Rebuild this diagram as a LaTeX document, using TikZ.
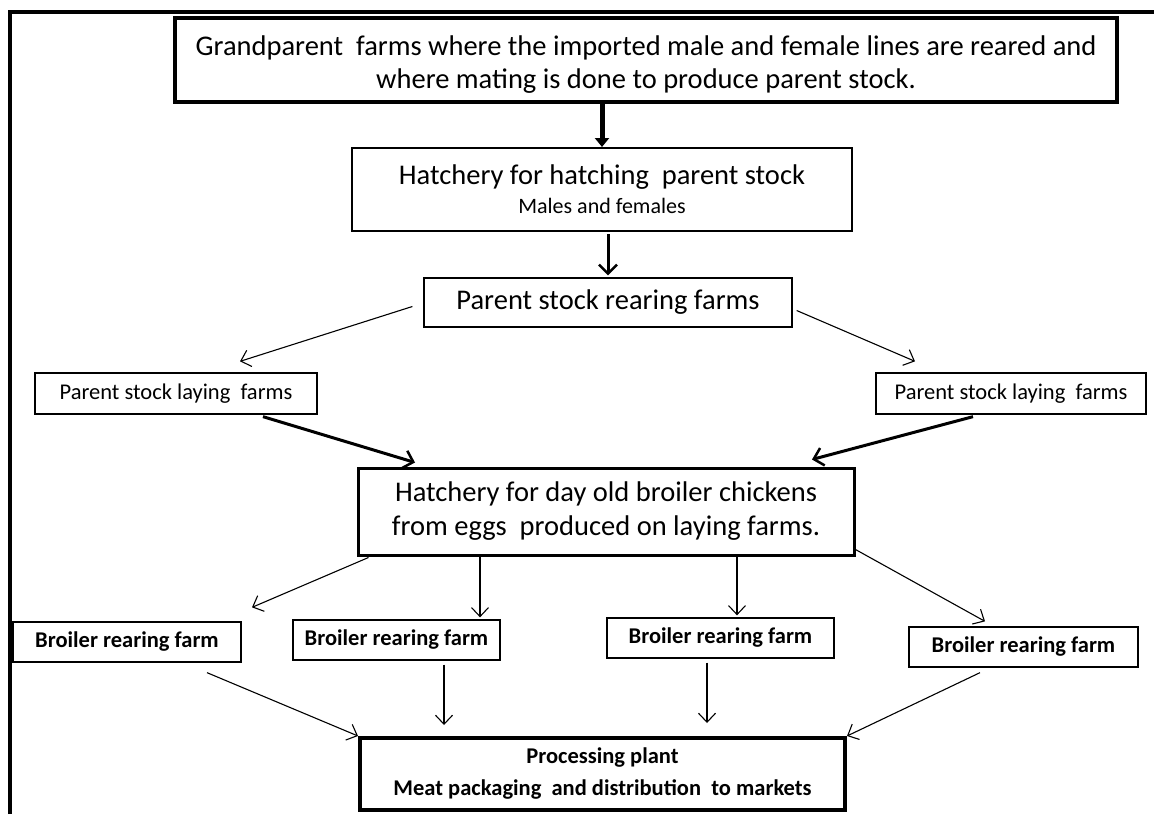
\documentclass[tikz,border=0pt]{standalone}
\usepackage{fontspec}
\setmainfont{Carlito}
\usetikzlibrary{arrows.meta,calc}
\begin{document}
\begin{tikzpicture}[x=1pt,y=1pt,
  box/.style={draw=black,rectangle,inner sep=0pt,align=center,fill=white},
  big/.style={font=\fontsize{28.5}{33}\selectfont},
  small/.style={font=\fontsize{22.5}{26}\selectfont},
  bsmall/.style={font=\fontsize{22.5}{26}\selectfont\bfseries},
  thinarr/.style={draw=black,line width=1.1pt,-{Straight Barb[length=9pt,width=17pt,line width=1.1pt]}},
  medarr/.style={draw=black,line width=3pt,-{Straight Barb[length=9pt,width=18pt,line width=2.5pt]}},
  thickarr/.style={draw=black,line width=5pt,-{Triangle[length=9pt,width=14pt]}}
]
\useasboundingbox (0,0) rectangle (1154,-814);
% frame
\draw[line width=4pt] (10,-814) -- (10,-12) -- (1154,-12);

\node[box,big,line width=4pt,minimum width=942pt,minimum height=84pt] (gp) at (646,-60)
  {\raisebox{-5pt}[\height][\depth]{\begin{tabular}{@{}c@{}}Grandparent\ \ farms where the imported male and female lines are reared and\\ where mating is done to produce parent stock.\end{tabular}}};
\node[box,line width=2pt,minimum width=500pt,minimum height=83pt] (h1) at (602,-189.5)
  {{\fontsize{28.5}{33}\selectfont Hatchery for hatching\ \ parent stock}\\[8pt] {\fontsize{22}{26}\selectfont Males and females}};
\node[box,big,line width=1.3pt,minimum width=368pt,minimum height=49pt] (r) at (608,-302.5)
  {Parent stock rearing farms};
\node[box,small,line width=1.3pt,minimum width=282pt,minimum height=41pt] (ll) at (176,-393.5)
  {Parent stock laying\ \ farms};
\node[box,small,line width=1.3pt,minimum width=270pt,minimum height=41pt] (lr) at (1011,-393.5)
  {Parent stock laying\ \ farms};
\node[box,font=\fontsize{28.5}{34}\selectfont,line width=3pt,minimum width=496pt,minimum height=87pt] (h2) at (606,-511.5)
  {Hatchery for day old broiler chickens\\ from eggs\ \ produced on laying farms.};
\node[box,bsmall,line width=1.3pt,minimum width=228pt,minimum height=40pt] (b1) at (127,-642) {Broiler rearing farm};
\node[box,bsmall,line width=1.3pt,minimum width=207pt,minimum height=40pt] (b2) at (396.5,-640) {Broiler rearing farm};
\node[box,bsmall,line width=1.3pt,minimum width=227pt,minimum height=40pt] (b3) at (720.5,-638) {Broiler rearing farm};
\node[box,bsmall,line width=1.3pt,minimum width=229pt,minimum height=40pt] (b4) at (1023.5,-647) {Broiler rearing farm};
\node[box,bsmall,line width=4pt,minimum width=485pt,minimum height=72pt] (p) at (602.5,-774)
  {Processing plant\\[6pt] Meat packaging\ \ and distribution\ \ to markets};

% connectors
\draw[thickarr] (gp.south -| h1.north) -- (h1.north);
\draw[medarr] ([yshift=-2pt]h1.south -| r.north) -- ([yshift=2pt]r.north);
\draw[thinarr] ([xshift=-11pt,yshift=-4pt]r.west) -- ([xshift=64pt,yshift=11pt]ll.north);
\draw[thinarr] ([xshift=4pt,yshift=-8pt]r.east) -- ([xshift=-96pt,yshift=11pt]lr.north);
\draw[medarr] ([xshift=87pt,yshift=-2pt]ll.south) -- ([xshift=-191pt,yshift=4pt]h2.north);
\draw[medarr] ([xshift=-38pt,yshift=-2pt]lr.south) -- ([xshift=206pt,yshift=7pt]h2.north);
\draw[thinarr] ([xshift=12pt,yshift=-1pt]h2.south west) -- ([xshift=125pt,yshift=14pt]b1.north);
\draw[thinarr] ([xshift=-126pt]h2.south) -- ([xshift=83.5pt,yshift=2pt]b2.north);
\draw[thinarr] ([xshift=131pt]h2.south) -- ([xshift=16.5pt,yshift=2pt]b3.north);
\draw[thinarr] ([yshift=7pt]h2.south east) -- ([xshift=-38.5pt,yshift=5pt]b4.north);
\draw[thinarr] ([xshift=80pt,yshift=-10pt]b1.south) -- (p.north west);
\draw[thinarr] ([xshift=47.5pt,yshift=-4pt]b2.south) -- ([xshift=-158.5pt,yshift=11pt]p.north);
\draw[thinarr] ([xshift=-13.5pt,yshift=-4pt]b3.south) -- ([xshift=104.5pt,yshift=13pt]p.north);
\draw[thinarr] ([xshift=-43.5pt,yshift=-5pt]b4.south) -- (p.north east);
\end{tikzpicture}
\end{document}
